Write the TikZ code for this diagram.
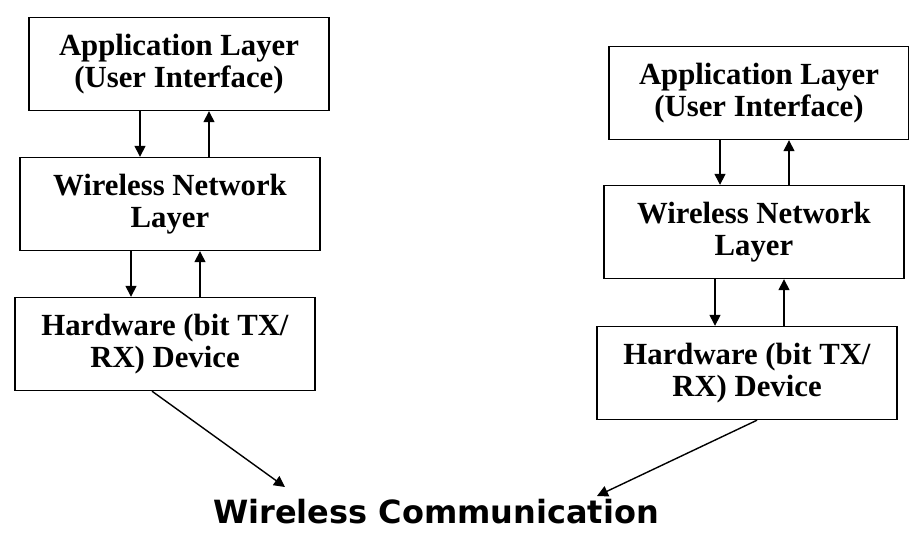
\documentclass[tikz,border=0pt]{standalone}
\usepackage{fontspec}
\setmainfont{Liberation Serif}
\newfontfamily\commfont{DejaVu Sans}
\usepackage{tikz}
\usetikzlibrary{arrows.meta,positioning}

\begin{document}
\begin{tikzpicture}[auto, x=0.02cm, y=-0.02cm,
    >={Triangle[length=2.2mm,width=2.2mm]},
    layer/.style={draw,
        line width=0.8pt,
        align=center,
        inner sep=0pt,
        minimum width=6cm,
        minimum height=1.86cm,
        font=\bfseries\fontsize{17.5}{18}\selectfont},
    link/.style={->, line width=0.8pt}]
    \useasboundingbox (0,0) rectangle (909,551);
    % Left stack
    \node [layer] (appL) at (179,64) {Application Layer\\(User Interface)};
    \node [layer] (netL) at (170,204) {Wireless Network\\Layer};
    \node [layer] (hwL) at (165,344) {Hardware (bit TX/\\RX) Device};
    % Right stack
    \node [layer] (appR) at (759,93) {Application Layer\\(User Interface)};
    \node [layer] (netR) at (754,232) {Wireless Network\\Layer};
    \node [layer] (hwR) at (747,373) {Hardware (bit TX/\\RX) Device};
    % Medium
    \node [font=\commfont\bfseries\fontsize{18.2}{20}\selectfont] (comm) at (436,512) {Wireless Communication};
    \coordinate (tipL) at (285,487);
    \coordinate (tipR) at (597,496);
    % Arrows between layers
    \foreach \a/\b in {appL/netL, netL/hwL, appR/netR, netR/hwR} {
        \draw[link] ([xshift=-0.78cm]\a.south) -- ([xshift=-0.78cm]\a.south |- \b.north);
        \draw[link] ([xshift=0.6cm]\a.south |- \b.north) -- ([xshift=0.6cm]\a.south);
    }
    % Arrows to the medium
    \draw[link] ([xshift=-0.26cm]hwL.south) -- (tipL);
    \draw[link] ([xshift=0.2cm]hwR.south) -- (tipR);

\end{tikzpicture}
\end{document}
